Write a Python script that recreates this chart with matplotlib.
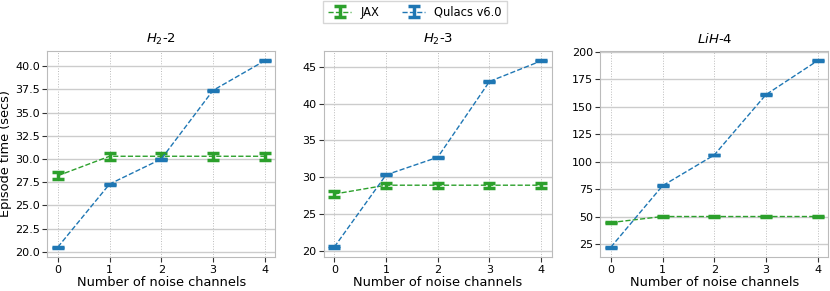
import matplotlib
matplotlib.use("Agg")
import matplotlib.pyplot as plt
from matplotlib.ticker import MultipleLocator

channels = [0, 1, 2, 3, 4]
titles = ["$H_2$-2", "$H_2$-3", "$LiH$-4"]
ytick_steps = [2.5, 5, 25]

jax_h2_2 = [28.2, 30.3, 30.3, 30.3, 30.3]
jax_h2_2_err = [0.35, 0.35, 0.3, 0.35, 0.35]
qulacs_h2_2 = [20.5, 27.3, 30.0, 37.4, 40.6]
qulacs_h2_2_err = [0.05, 0.05, 0.05, 0.05, 0.05]

jax_h2_3 = [27.7, 28.9, 28.9, 28.9, 28.9]
jax_h2_3_err = [0.45, 0.35, 0.35, 0.35, 0.35]
qulacs_h2_3 = [20.5, 30.3, 32.7, 43.0, 45.8]
qulacs_h2_3_err = [0.08, 0.08, 0.08, 0.08, 0.08]

jax_lih_4 = [44.5, 50.0, 50.0, 50.0, 50.0]
jax_lih_4_err = [0.4, 0.4, 0.4, 0.4, 0.4]
qulacs_lih_4 = [22.0, 78.0, 106.0, 161.0, 192.0]
qulacs_lih_4_err = [0.3, 0.3, 0.3, 0.3, 0.3]

jax_all = [(jax_h2_2, jax_h2_2_err), (jax_h2_3, jax_h2_3_err), (jax_lih_4, jax_lih_4_err)]
qulacs_all = [(qulacs_h2_2, qulacs_h2_2_err), (qulacs_h2_3, qulacs_h2_3_err),
              (qulacs_lih_4, qulacs_lih_4_err)]

green = "#2ca02c"
blue = "#1f77b4"

plt.rcParams["font.family"] = "DejaVu Sans"
fig, axes = plt.subplots(1, 3, figsize=(8.3, 2.91), dpi=100)
fig.subplots_adjust(left=0.0572, right=0.9976, bottom=0.117, top=0.825, wspace=0.215)

handles = []
for i, ax in enumerate(axes):
    jy, je = jax_all[i]
    qy, qe = qulacs_all[i]
    h1 = ax.errorbar(channels, jy, yerr=je, color=green, ls="--", lw=1,
                     capsize=4, capthick=2.5, elinewidth=2.5, label="JAX")
    h2 = ax.errorbar(channels, qy, yerr=qe, color=blue, ls="--", lw=1,
                     capsize=4, capthick=2.5, elinewidth=2.5, label="Qulacs v6.0")
    if i == 0:
        handles = [h1, h2]
    ax.set_title(titles[i], fontsize=9.5, pad=6)
    ax.set_xlabel("Number of noise channels", fontsize=9.3, labelpad=1)
    ax.set_xticks(channels)
    ax.yaxis.set_major_locator(MultipleLocator(ytick_steps[i]))
    ax.grid(axis="y", color="#cccccc", lw=1)
    ax.grid(axis="x", color="#bbbbbb", lw=0.7, ls=":")
    ax.set_axisbelow(True)
    for s in ax.spines.values():
        s.set_color("#bbbbbb")
    ax.tick_params(labelsize=8, length=3.5, color="#333333", pad=2)

axes[0].set_ylabel("Episode time (secs)", fontsize=9.3, labelpad=2)

fig.legend(handles=handles, labels=["JAX", "Qulacs v6.0"], loc="upper center",
           ncol=2, bbox_to_anchor=(0.5, 1.0), fontsize=8.3, frameon=True,
           edgecolor="#cccccc", fancybox=False, borderaxespad=0.1,
           columnspacing=2.0)

fig.savefig("out.png", dpi=100)
